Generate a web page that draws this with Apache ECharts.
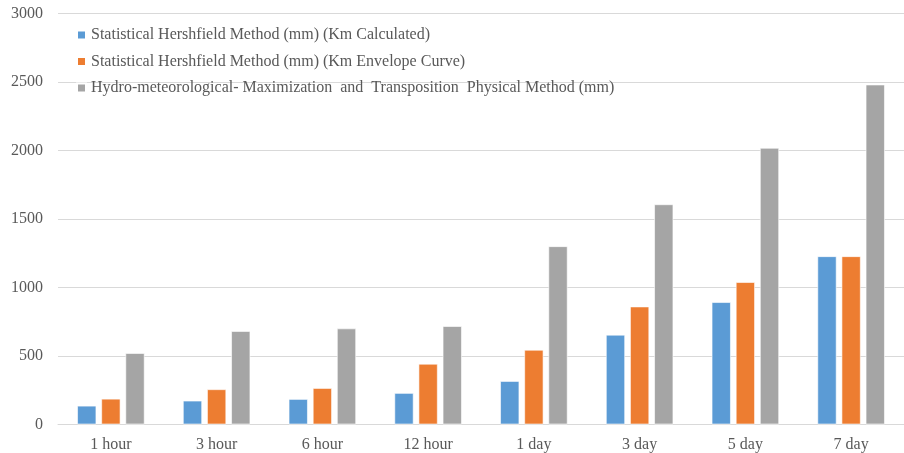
<!DOCTYPE html>
<html>
<head>
<meta charset="utf-8">
<script src="https://cdn.jsdelivr.net/npm/echarts@6/dist/echarts.min.js"></script>
<style>
  html, body { margin: 0; padding: 0; background: #ffffff; }
  #chart { width: 904px; height: 453px; }
</style>
</head>
<body>
<div id="chart"></div>
<script>
// Storm durations on the category axis
const durations = ['1 hour', '3 hour', '6 hour', '12 hour', '1 day', '3 day', '5 day', '7 day'];

// Series names
const nameKmCalculated = 'Statistical Hershfield Method (mm) (Km Calculated)';
const nameKmEnvelope = 'Statistical Hershfield Method (mm) (Km Envelope Curve)';
const nameHydroMet = 'Hydro-meteorological- Maximization  and  Transposition  Physical Method (mm)';

// Precipitation depths (mm)
const kmCalculated = [135, 172, 184, 228, 315, 653, 891, 1226];
const kmEnvelope = [186, 255, 264, 441, 543, 859, 1037, 1226];
const hydroMet = [519, 680, 699, 716, 1299, 1605, 2017, 2479];

// Value axis ticks
const yMin = 0;
const yMax = 3000;
const yStep = 500;

const textColor = '#595959';
const gridColor = '#d9d9d9';
const fontFamily = '"Liberation Serif", "Times New Roman", serif';

const chart = echarts.init(document.getElementById('chart'));

function barSeries(name, data, color) {
  return {
    name: name,
    type: 'bar',
    data: data,
    barWidth: 19,
    barGap: '27%',
    itemStyle: { color: color, borderColor: '#ffffff', borderWidth: 0.6 },
    emphasis: { disabled: true }
  };
}

chart.setOption({
  animation: false,
  backgroundColor: '#ffffff',
  textStyle: { fontFamily: fontFamily },
  grid: { left: 58, right: 0, top: 13.3, bottom: 28.7, containLabel: false },
  legend: {
    orient: 'vertical',
    left: 71,
    top: 22,
    itemWidth: 9,
    itemHeight: 9,
    itemGap: 10.5,
    icon: 'rect',
    textStyle: { color: textColor, fontSize: 16, lineHeight: 16, fontFamily: fontFamily },
    data: [nameKmCalculated, nameKmEnvelope, nameHydroMet]
  },
  xAxis: {
    type: 'category',
    data: durations,
    axisLine: { show: true, lineStyle: { color: gridColor, width: 1 } },
    axisTick: { show: false },
    axisLabel: { color: textColor, fontSize: 16, fontFamily: fontFamily, margin: 12 }
  },
  yAxis: {
    type: 'value',
    min: yMin,
    max: yMax,
    interval: yStep,
    axisLine: { show: false },
    axisTick: { show: false },
    splitLine: { lineStyle: { color: gridColor, width: 1 } },
    axisLabel: {
      color: textColor,
      fontSize: 16,
      fontFamily: fontFamily,
      margin: 15,
      formatter: function (v) { return String(v); }
    }
  },
  series: [
    barSeries(nameKmCalculated, kmCalculated, '#5b9bd5'),
    barSeries(nameKmEnvelope, kmEnvelope, '#ed7d31'),
    barSeries(nameHydroMet, hydroMet, '#a5a5a5')
  ]
});
</script>
</body>
</html>
